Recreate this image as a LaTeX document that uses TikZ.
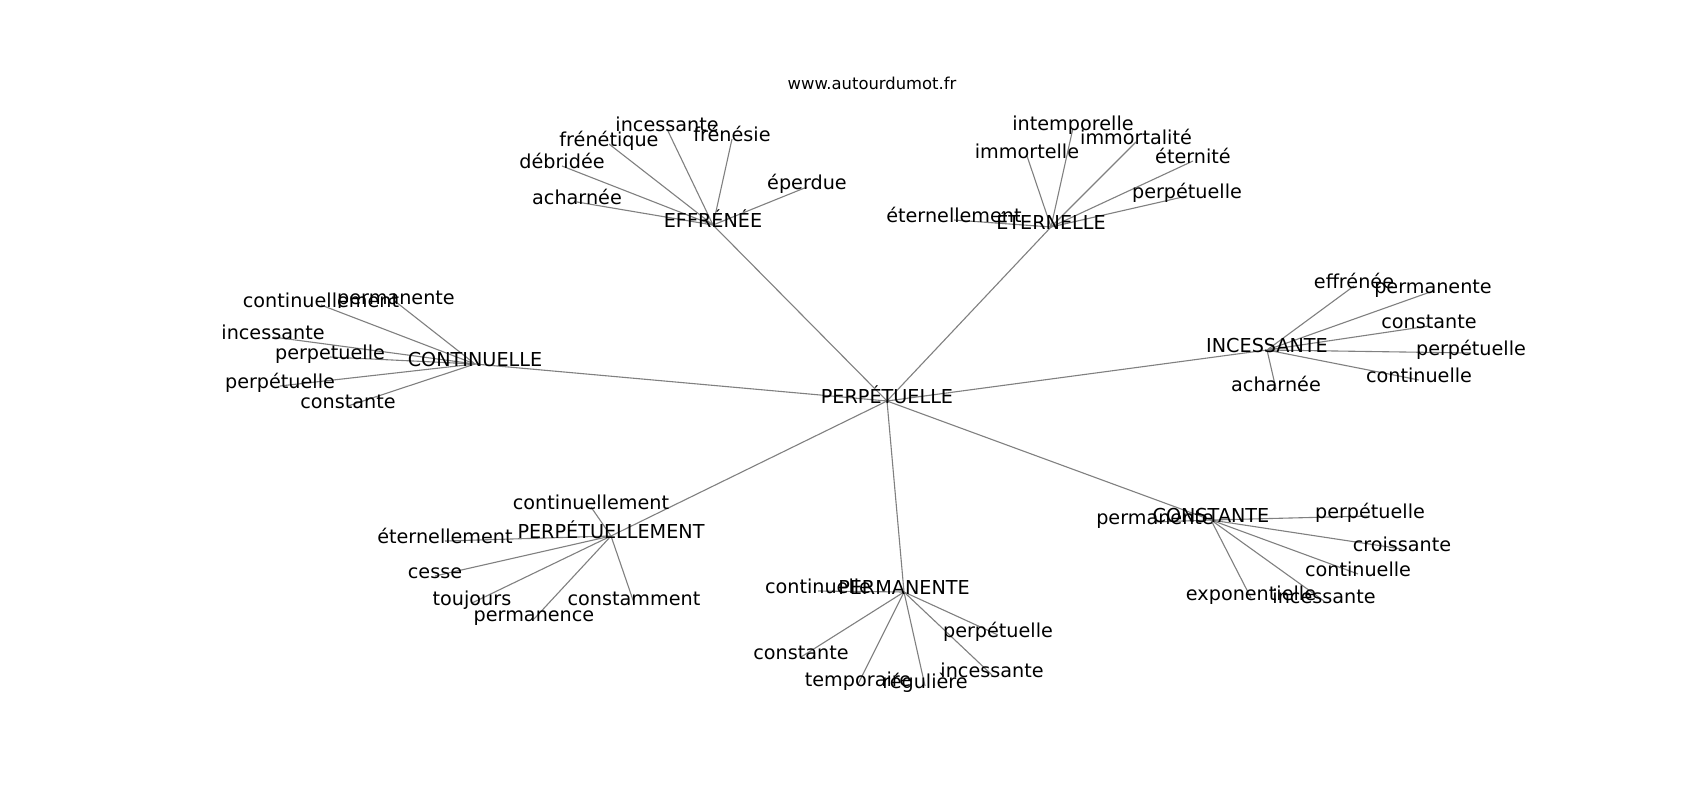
\documentclass[tikz,border=0pt]{standalone}
\usepackage{fontspec}
\setmainfont{DejaVu Sans}
\pgfdeclarelayer{back}
\pgfdeclarelayer{bg}
\pgfsetlayers{back,bg,main}
\tikzset{
  lbl/.style={inner sep=0pt, outer sep=0pt, text height=0.76em, text depth=0.24em, anchor=center, font=\fontsize{19.2}{19.2}\selectfont},
  ttl/.style={inner sep=0pt, text height=0.76em, text depth=0.24em, anchor=center, font=\fontsize{16.4}{16.4}\selectfont},
  edge/.style={draw={rgb,255:red,128;green,128;blue,128}, line width=1.1pt}
}
\begin{document}
\begin{tikzpicture}[x=1pt,y=-1pt]
\useasboundingbox (0,0) rectangle (1700,800);
\begin{pgfonlayer}{back}
\fill[white] (0,0) rectangle (1700,800);
\end{pgfonlayer}
\node[ttl] (T) at (872,87) {www.autourdumot.fr};
\begin{scope}[yshift=-3pt]
% center and hubs
\node[lbl] (P)  at (887,398) {PERPÉTUELLE};
\node[lbl] (EF) at (713,222) {EFFRÉNÉE};
\node[lbl] (ET) at (1051,224) {ÉTERNELLE};
\node[lbl] (CO) at (475,361) {CONTINUELLE};
\node[lbl] (IN) at (1267,347) {INCESSANTE};
\node[lbl] (PM) at (611,533) {PERPÉTUELLEMENT};
\node[lbl] (PE) at (904,589) {PERMANENTE};
\node[lbl] (CS) at (1211,517) {CONSTANTE};
% EFFRÉNÉE leaves
\node[lbl] (ef1) at (667,126) {incessante};
\node[lbl] (ef2) at (732,136) {frénésie};
\node[lbl] (ef3) at (609,141) {frénétique};
\node[lbl] (ef4) at (562,163) {débridée};
\node[lbl] (ef5) at (807,184) {éperdue};
\node[lbl] (ef6) at (577,199) {acharnée};
% ÉTERNELLE leaves
\node[lbl] (et1) at (1073,125) {intemporelle};
\node[lbl] (et2) at (1136,139) {immortalité};
\node[lbl] (et3) at (1027,153) {immortelle};
\node[lbl] (et4) at (1193,158) {éternité};
\node[lbl] (et5) at (1187,193) {perpétuelle};
\node[lbl] (et6) at (954,217) {éternellement};
% CONTINUELLE leaves
\node[lbl] (co1) at (321,302) {continuellement};
\node[lbl] (co2) at (396,299) {permanente};
\node[lbl] (co3) at (273,334) {incessante};
\node[lbl] (co4) at (330,354) {perpetuelle};
\node[lbl] (co5) at (280,383) {perpétuelle};
\node[lbl] (co6) at (348,403) {constante};
% INCESSANTE leaves
\node[lbl] (in1) at (1354,283) {effrénée};
\node[lbl] (in2) at (1433,288) {permanente};
\node[lbl] (in3) at (1429,323) {constante};
\node[lbl] (in4) at (1471,350) {perpétuelle};
\node[lbl] (in5) at (1419,377) {continuelle};
\node[lbl] (in6) at (1276,386) {acharnée};
% PERPÉTUELLEMENT leaves
\node[lbl] (pm1) at (591,504) {continuellement};
\node[lbl] (pm2) at (445,538) {éternellement};
\node[lbl] (pm3) at (435,573) {cesse};
\node[lbl] (pm4) at (472,600) {toujours};
\node[lbl] (pm5) at (634,600) {constamment};
\node[lbl] (pm6) at (534,616) {permanence};
% PERMANENTE leaves
\node[lbl] (pe1) at (818,588) {continuelle};
\node[lbl] (pe2) at (998,632) {perpétuelle};
\node[lbl] (pe3) at (801,654) {constante};
\node[lbl] (pe4) at (992,672) {incessante};
\node[lbl] (pe5) at (858,681) {temporaire};
\node[lbl] (pe6) at (925,683) {régulière};
% CONSTANTE leaves
\node[lbl] (cs1) at (1155,519) {permanente};
\node[lbl] (cs2) at (1370,513) {perpétuelle};
\node[lbl] (cs3) at (1402,546) {croissante};
\node[lbl] (cs4) at (1358,571) {continuelle};
\node[lbl] (cs5) at (1251,595) {exponentielle};
\node[lbl] (cs6) at (1324,598) {incessante};
\begin{pgfonlayer}{bg}
\foreach \h in {EF,ET,CO,IN,PM,PE,CS}
  \draw[edge] (P.center) -- (\h.center);
\foreach \l in {ef1,ef2,ef3,ef4,ef5,ef6}
  \draw[edge] (EF.center) -- (\l.center);
\foreach \l in {et1,et2,et3,et4,et5,et6}
  \draw[edge] (ET.center) -- (\l.center);
\foreach \l in {co1,co2,co3,co4,co5,co6}
  \draw[edge] (CO.center) -- (\l.center);
\foreach \l in {in1,in2,in3,in4,in5,in6}
  \draw[edge] (IN.center) -- (\l.center);
\foreach \l in {pm1,pm2,pm3,pm4,pm5,pm6}
  \draw[edge] (PM.center) -- (\l.center);
\foreach \l in {pe1,pe2,pe3,pe4,pe5,pe6}
  \draw[edge] (PE.center) -- (\l.center);
\foreach \l in {cs1,cs2,cs3,cs4,cs5,cs6}
  \draw[edge] (CS.center) -- (\l.center);
\end{pgfonlayer}
\end{scope}
\end{tikzpicture}
\end{document}
